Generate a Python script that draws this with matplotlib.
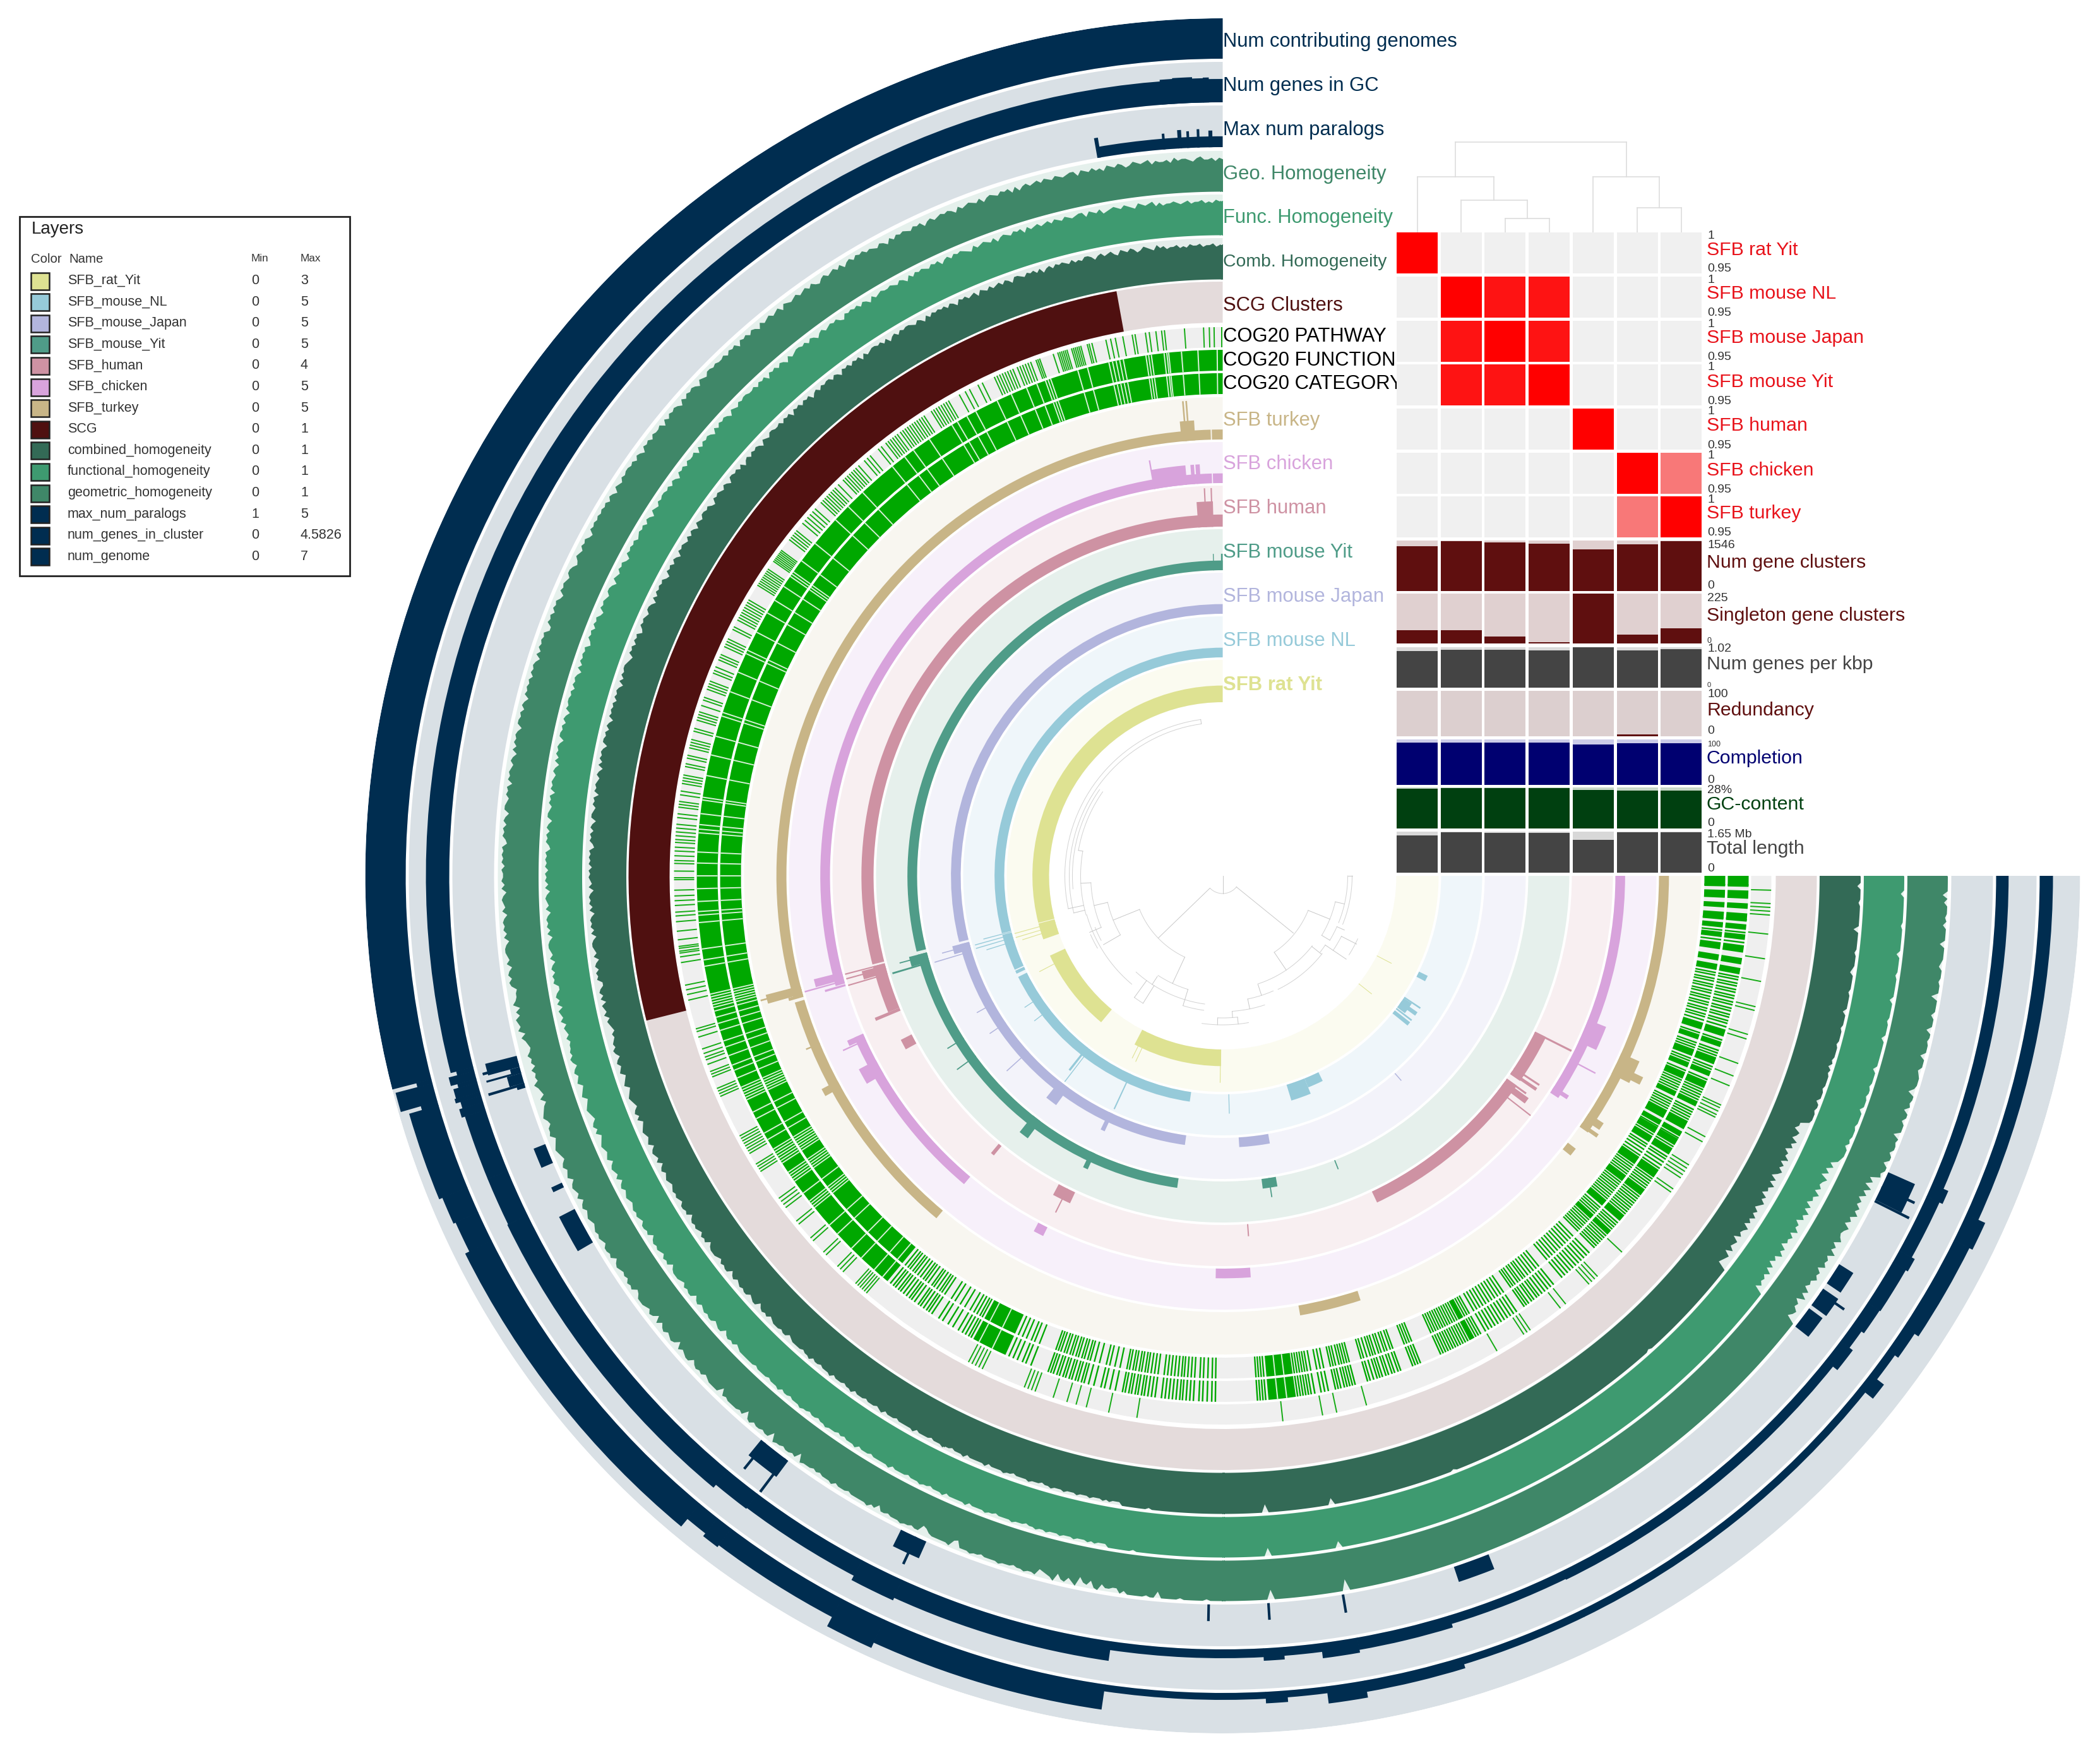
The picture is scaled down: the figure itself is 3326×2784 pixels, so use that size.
import numpy as np
import matplotlib
matplotlib.use("Agg")
import matplotlib.pyplot as plt
from matplotlib.colors import LinearSegmentedColormap
from matplotlib.patches import Rectangle

plt.rcParams['font.family'] = ['Liberation Sans', 'DejaVu Sans']

W, H = 3326, 2784
CX, CY, RMAX = 1936.5, 1387, 1358

# ring limits, radius in pixels of the figure
ring_limits = {
    'num_genome': (1294, 1358), 'num_genes': (1225, 1289), 'paralogs': (1154, 1220),
    'geo': (1084, 1148), 'func': (1015, 1079), 'comb': (945, 1010), 'scg': (876, 941),
    'pathway': (837, 869), 'function': (800, 833), 'category': (763, 796),
    'turkey': (691, 758), 'chicken': (622, 687), 'human': (553, 618), 'yit': (484, 549),
    'japan': (415, 480), 'nl': (346, 411), 'rat': (275, 342),
}

# (start deg, end deg, value), angle runs counter clockwise from north
rat_segs = [(0, 104.3, 1), (104.5, 109.5, 1), (114.8, 140.3, 1), (152.4, 179.5, 1), (105.4, 105.6, 2.6),
            (106.5, 106.7, 2.6), (107.6, 107.8, 2.2), (117.5, 117.7, 2), (153.5, 153.7, 1.8), (154.8, 155, 1.9),
            (179.2, 179.4, 2), (231.5, 231.7, 1), (242.5, 242.7, 1)]
nl_segs = [(0, 104.6, 1), (105, 114.3, 1), (114.6, 115.4, 1), (116.3, 171.7, 1), (104.7, 104.9, 3), (105.5, 105.7, 4),
           (106.3, 106.5, 4), (107.3, 107.5, 3), (123.5, 123.7, 2), (127.5, 127.7, 2), (141.5, 142, 3),
           (142.4, 142.6, 5), (154.9, 155.2, 4), (181.5, 181.7, 2), (197, 202, 1.7), (202, 206, 1), (233, 236, 1),
           (231, 232, 2), (232.4, 232.8, 2), (236, 236.4, 2), (234, 235, 2), (242.5, 244, 1)]
japan_segs = [(0, 104.1, 1), (104.6, 172, 1), (183.5, 190, 1), (104.6, 106.3, 1.8), (105.3, 105.5, 3), (106.6, 106.8, 4),
              (119, 119.2, 2), (124, 124.2, 2), (132, 132.2, 3), (141.5, 144, 2.2), (154.3, 155.2, 2), (221, 221.2, 1)]
yit_segs = [(0, 103.9, 1), (104.5, 171.7, 1), (187.3, 190, 1), (104.5, 106.3, 1.9), (105, 105.2, 3), (106.3, 106.6, 4),
            (122, 122.2, 2), (126, 126.2, 2.4), (141.6, 143.4, 2.2), (154.4, 155.3, 1.8), (188.6, 188.8, 2),
            (201.4, 201.6, 1), (1.6, 1.75, 1.7), (0, 0.3, 1.7)]
human_segs = [(0, 104.2, 1), (104.5, 112.2, 1), (117, 118.7, 1), (140.1, 140.7, 1), (152, 155, 1), (184, 184.2, 1),
              (205.3, 234.5, 1), (235.4, 243.5, 1), (1.5, 4, 2.1), (1.6, 1.8, 3.2), (2.6, 2.8, 3.2), (104.8, 106.1, 2),
              (104.5, 104.7, 3.9), (105.2, 105.4, 3.9), (106.2, 106.4, 3.6), (112.2, 112.7, 2.2), (153.5, 153.7, 2.2),
              (243.2, 243.5, 4), (234.2, 234.5, 2), (233, 234, 2.4), (232, 232.2, 3.6), (235.5, 236, 2.5), (236.4, 236.7, 2.5)]
chicken_segs = [(0, 1.4, 1), (1.55, 105.9, 1), (113.7, 140, 1), (152, 153.5, 1), (179, 184, 1), (236.5, 270, 1), (5.2, 10, 2),
                (9.9, 10.1, 3), (3.2, 3.8, 2), (4, 4.5, 2), (104.2, 105.3, 3), (105.4, 105.6, 4.7), (106, 106.3, 2.2),
                (113.7, 114.5, 1.8), (114.6, 114.8, 2.6), (118, 120.3, 2), (245, 248.5, 2), (242, 242.2, 3), (237, 237.6, 1.8)]
turkey_segs = [(0, 1.4, 1), (1.55, 106, 1), (106.5, 140.1, 1), (190, 198, 1), (231.2, 232.3, 1), (234.9, 270, 1), (3.6, 5.4, 2),
               (4.3, 4.5, 4), (4.7, 4.9, 4), (104.6, 105.7, 3.6), (105, 105.2, 4.7), (105.7, 106.1, 1.5), (112.5, 112.7, 1.5),
               (118, 119, 1.8), (243, 246, 2), (243.4, 244.4, 3), (236, 237, 1.8), (235, 235.5, 2)]
scg_segs = [(10.3, 104.1, 1)]

num_genome_segs = [(0, 104.4, 7), (104.4, 104.7, 2.7), (104.7, 106, 6.6), (106, 106.3, 3),
                   (106.3, 112.4, 5.3), (112.4, 114.3, 4.7), (114.3, 116.5, 4.3), (116.5, 140.2, 5.1), (140.2, 141.8, 3.4),
                   (141.8, 143, 4), (143, 152.2, 3.6), (152.2, 155.5, 5.4), (155.5, 171.7, 4.4), (171.7, 183, 1.2),
                   (183, 184.5, 2), (184.5, 187.3, 1.2), (187.3, 190, 3), (190, 197, 2), (197, 206, 1.3), (206, 231.2, 1.3),
                   (231.2, 232.4, 3), (232.4, 234.5, 1.5), (234.5, 236.5, 2.2), (236.5, 243.5, 3), (243.5, 245.5, 3.6),
                   (245.5, 270, 2.3)]
num_genes_vals = [(0, 104.3, 7), (1, 1.4, 8), (1.4, 2.2, 7.6), (2.2, 3.6, 8.5), (3.6, 4.5, 8), (104.3, 104.6, 4),
                  (104.6, 105.2, 9), (105.2, 105.5, 5), (105.5, 106.2, 8), (106.2, 106.5, 9), (106.5, 107, 6), (107, 107.6, 8),
                  (107.6, 112.4, 6), (112.4, 116, 6), (116, 140.2, 6.5), (140.2, 143, 4.5), (143, 152.2, 4), (152.2, 155.5, 6.5),
                  (155.5, 171.7, 5), (171.7, 183, 1), (183, 184.5, 2), (184.5, 187.3, 1), (187.3, 190, 3), (190, 197, 2),
                  (197, 206, 1), (206, 231.2, 1.2), (231.2, 233, 3), (233, 234.5, 1.6), (234.5, 236.5, 2.6), (236.5, 240, 3),
                  (240, 241, 4), (241, 245.5, 2.6), (245.5, 246.5, 4), (246.5, 270, 2)]
paralog_segs = [(0, 9.8, 1.3), (0.8, 1.1, 2), (1.8, 2.0, 2.2), (2.6, 2.8, 2), (3.2, 3.5, 2.2), (4.5, 4.7, 1.9), (9.6, 9.9, 2.4),
                (104.3, 105.2, 3.9), (105.2, 105.7, 1.2), (105.7, 106.5, 1.8), (106.5, 106.9, 1.0), (105.55, 105.7, 4.3),
                (106.5, 106.7, 4.5), (104.9, 105.1, 4.5), (111.6, 113.2, 1.5), (114.9, 115.3, 1.4), (117.2, 120.2, 2.1),
                (140.7, 143.4, 2.4), (141, 141.2, 4), (143, 143.2, 5), (153.8, 156, 2.2), (155, 155.2, 3.6), (178.8, 179, 2),
                (183.5, 183.7, 2), (189.4, 189.6, 2.2), (198.5, 201.4, 1.9), (231.8, 233.6, 2), (233.9, 235.5, 2.2),
                (235, 235.2, 3.5), (236, 237.8, 2), (243.6, 246, 3.5), (243.4, 243.6, 4.6), (244.6, 244.8, 4.4)]

# homogeneity every 0.3 deg, one digit per point, percent = 64 + 4 * digit
comb_homog = (
    "55465546556454655465745675467567457657646775657567"
    "67576475767567746757657567476576746757676757467567"
    "76757647576776574767576746757767576476757674767576"
    "67756746767576475767746756767457677567467575676746"
    "75767457676757467756767547675767456776757467675767"
    "67467576774676757467567674767567746757675476767576"
    "76574676757467675746776574675767446757476574654354"
    "56576467567456745676546757456765674676574675676567"
    "67657767467676576746777657677467567677567746767567"
    "77677567777677867767778677767786777677767867776777"
    "77867777677787767778677777867777877677778777677877"
    "78777877787778787779999999989999999999999999999999"
    "99999999999949999999999999999999599999999999999999"
    "99999999999999999999899999999999999999999999999999"
    "99999999999999999999999999999999999999989999999999"
    "99999999999999999999999345626345153462536352463514"
    "36251463526341536245133899989979998999989798999989"
    "99989999799999899999789999899999969999999899997999"
)
func_homog = (
    "55645465546545655464765674567567654756747765675675"
    "76576574767567647567657456767576476756767574675676"
    "67657467576767457676576467576776574675767476757667"
    "76756746767574676757476675767467576776756746757676"
    "57676745767567467756767457675767547676757467675767"
    "76746757677467675746756767476756774675767547676757"
    "67574676574676757467765746757674467574765746546455"
    "65764675674567456765467574567656746765746756765676"
    "76577674676765767467776576774675676775677467675677"
    "77776777767778677677787767767787776767778677767777"
    "78677776777877677786777778677778776777787776778778"
    "77787778777878777999999989999999999999999999999999"
    "99999999999949999999999999999999599999999999999999"
    "99999999999999999999999999999999999999999999999999"
    "99999999999999999999999999999999999999999999999999"
    "99999999999999999999999936453625142635143526341536"
    "25143625346152637899979899989999799989989999799999"
    "99979999899999799999989999979999999899999999799999"
)
geo_homog = (
    "45354465345546354453654564356456354645636654564564"
    "65465363656456536456546356565465365645656463564565"
    "76757647576576457576576567476576574675767476757667"
    "67756746767574676757476675767467576776756746757676"
    "76767457675675467756767457675767447676757467675767"
    "67467576774676757467567674767567746757675476767576"
    "67574676574676757467765746757634457364765736432353"
    "42534364325245675466745676546756746765746756765676"
    "76577674676565767457776576374675676375677467675677"
    "77376777767378677677387767767387776767778677767777"
    "78674776777877677346777778437778776777787776778778"
    "45679478579367489577669799999899599999899999989999"
    "99999999999939999999999999999999299999999999999999"
    "99999999999999999999999999999999999999999999999999"
    "99999999999999999999999999999999999999999999999999"
    "99999999999999999999999356341625132534153426241532"
    "35142635241526152879969979989599979969899589998799"
    "96999899699979999599989997899996999979899979699999"
)

# cog layers: solid runs, gaps inside the solid runs, and single lines, all degrees
cog_blocks = [(0, 140.4), (151.7, 155.6), (185.0, 188.0), (208.0, 208.6), (227.0, 227.6), (229.0, 229.8), (232.6, 233.4),
              (235.0, 236.0), (238.0, 238.8), (239.2, 240.0), (240.3, 240.9), (241.2, 242.2), (244.0, 244.6), (246.2, 247.0),
              (247.6, 248.2), (249.0, 249.8), (251.0, 251.6), (252.2, 253.0), (259.2, 259.9), (260.3, 261.0), (261.6, 262.4),
              (263.0, 263.6), (264.1, 264.7), (265.0, 265.9), (266.4, 267.0), (267.5, 268.4), (268.8, 270)]
cog_gaps = [0.6, 2.7, 4.5, 5.9, 6.1, 6.4, 7.8, 8.1, 8.4, 10.9, 11.3, 11.7, 12.1, 12.5, 14.9, 16.0, 19.1, 19.4, 19.7, 20.7, 21.9,
            23.7, 25.4, 28.0, 29.1, 30.3, 31.0, 33.9, 36.0, 37.2, 38.9, 43.2, 45.4, 47.4, 50.8, 53.2, 54.7, 55.0, 55.3, 56.6,
            58.4, 60.0, 62.4, 64.6, 65.0, 67.2, 69.5, 71.9, 72.3, 74.6, 76.7, 79.0, 81.4, 81.7, 83.2, 84.4, 84.9, 85.3, 87.4,
            88.6, 90.0, 91.4, 92.8, 93.9, 94.3, 95.1, 98.0, 99.2, 99.9, 103.0, 103.3, 103.6, 103.9, 104.2, 104.5, 104.9, 105.6,
            106.3, 107.1, 108.3, 109.0, 110.0, 111.1, 111.7, 112.6, 113.7, 114.0, 114.3, 114.6, 114.9, 115.2, 116.7, 117.5,
            119.3, 120.1, 121.3, 121.6, 121.9, 122.2, 122.5, 122.8, 123.1, 124.3, 124.6, 124.9, 125.2, 125.5, 127.1, 128.2,
            128.5, 128.8, 129.1, 131.6, 132.9, 135.1, 136.6, 138.5, 139.7, 152.4, 154.0, 186.0, 187.0]
cog_lines = [140.8, 141.2, 141.5, 141.9, 142.2, 142.6, 143.0, 143.4, 143.7, 144.1, 144.6, 144.9, 145.3, 145.7, 146.0, 146.4, 147.3,
             147.8, 148.5, 149.1, 149.8, 150.3, 150.7, 151.1, 151.4, 156.0, 156.5, 157.0, 157.6, 158.0, 158.6, 160.6, 160.9, 161.2,
             161.6, 161.9, 162.3, 162.6, 163.0, 163.3, 163.7, 164.0, 164.4, 164.7, 165.2, 165.8, 166.6, 167.0, 167.6, 168.2, 169.0,
             169.3, 169.7, 170.0, 170.4, 170.7, 171.1, 171.4, 171.8, 172.2, 172.6, 173.3, 173.7, 174.1, 174.5, 174.9, 175.3, 175.6,
             176.0, 176.4, 176.8, 177.4, 177.8, 178.3, 178.8, 179.2, 183.8, 184.1, 184.4, 184.7, 188.2, 188.5, 188.8, 189.1, 189.4,
             189.7, 190.1, 190.8, 191.2, 191.6, 192.4, 192.7, 193.0, 193.4, 193.7, 194.0, 194.3, 194.6, 196.0, 196.3, 196.7, 197.1,
             197.4, 197.7, 198.1, 198.4, 198.8, 199.1, 199.5, 199.8, 201.2, 201.5, 201.8, 202.1, 204.5, 204.8, 205.1, 205.4, 205.7,
             206.0, 206.3, 206.6, 206.9, 207.2, 207.5, 207.8, 208.8, 209.1, 209.4, 210.0, 210.4, 210.8, 211.2, 211.6, 212.0, 212.4,
             212.8, 213.2, 213.6, 214.0, 215.0, 215.3, 215.6, 216.0, 216.3, 216.7, 217.0, 217.4, 217.8, 218.2, 218.6, 219.0, 220.2,
             220.6, 221.0, 221.4, 221.8, 222.2, 222.6, 223.0, 223.4, 223.8, 224.2, 225.0, 225.3, 225.6, 225.9, 226.2, 226.5, 226.8,
             227.8, 228.1, 228.4, 228.7, 230.0, 230.3, 230.6, 230.9, 231.2, 231.5, 231.8, 232.1, 232.4, 233.6, 233.9, 234.2, 234.5,
             234.8, 236.2, 236.6, 237.0, 237.4, 237.7, 239.0, 240.1, 242.4, 242.7, 243.0, 243.3, 243.6, 244.8, 245.1, 245.4, 245.7,
             246.0, 247.2, 248.4, 248.7, 250.0, 250.3, 250.6, 251.8, 253.3, 253.7, 254.0, 254.4, 254.7, 255.1, 255.4, 255.8, 256.1,
             256.5, 256.8, 257.2, 257.5, 257.9, 258.2, 258.6, 258.9, 262.7, 263.8, 265.2, 269.0]
pathway_lines = [0.1, 0.9, 1.4, 2.0, 4.0, 6.1, 6.4, 7.0, 7.7, 8.1, 9.2, 9.5, 10.5, 11.3, 11.8, 12.3, 13.8, 14.1, 14.3, 15.0, 15.2,
                 15.4, 15.6, 15.8, 16.0, 16.5, 16.7, 16.9, 17.1, 17.3, 17.5, 18.0, 19.5, 19.7, 19.9, 20.5, 20.8, 21.1, 21.4, 21.7,
                 22.0, 22.5, 22.8, 23.1, 23.4, 23.7, 24.0, 24.3, 24.6, 26.0, 26.5, 27.5, 28.0, 28.7, 30.0, 30.3, 30.6, 30.9, 31.2,
                 31.5, 31.8, 32.1, 33.0, 33.3, 33.6, 33.9, 34.2, 34.5, 34.8, 35.1, 35.4, 35.7, 36.0, 36.4, 36.7, 37.0, 37.3, 37.6,
                 37.9, 38.5, 38.9, 40.0, 40.4, 40.8, 41.6, 42.0, 42.3, 42.6, 42.9, 43.2, 43.5, 43.8, 44.5, 45.0, 45.3, 45.6, 45.9,
                 46.2, 46.5, 46.8, 47.1, 48.0, 48.4, 48.8, 49.2, 49.6, 50.0, 51.0, 51.3, 51.6, 51.9, 52.2, 53.6, 53.8, 54.0, 54.2,
                 54.4, 54.6, 54.8, 55.0, 56.0, 56.25, 56.5, 56.75, 57.0, 57.25, 57.5, 57.75, 58.0, 59.8, 60.1, 60.4, 60.7, 61.0, 61.3,
                 61.6, 61.9, 62.2, 63.0, 63.3, 64.4, 64.7, 65.0, 65.3, 66.2, 66.5, 66.8, 67.6, 68.0, 68.3, 69.2, 69.5, 69.8, 70.1,
                 71.0, 71.3, 71.9, 72.6, 72.9, 73.2, 73.5, 74.4, 74.7, 75.6, 75.9, 76.2, 76.5, 77.3, 77.6, 78.2, 78.5, 79.4, 79.7,
                 80.0, 80.3, 81.1, 81.5, 82.2, 82.5, 82.8, 83.5, 83.9, 84.6, 85.0, 85.4, 85.8, 86.2, 86.5, 87.0, 87.4, 87.9, 88.4,
                 88.7, 89.5, 90.2, 90.4, 91.5, 92.1, 92.6, 93.1, 93.8, 94.2, 94.8, 95.8, 96.7, 97.4, 97.6, 97.9, 98.1, 98.5, 99.1,
                 101.5, 102.0, 102.5, 103.1, 106.2, 106.5, 107.1, 108.4, 108.9, 109.3, 109.6, 110.1, 110.9, 111.2, 111.5, 112.8,
                 113.1, 113.4, 113.7, 118.3, 118.6, 118.9, 119.2, 119.5, 119.8, 120.1, 120.4, 121.7, 122.0, 122.3, 122.6, 126.0,
                 126.4, 126.8, 127.2, 129.0, 129.4, 131.3, 131.7, 133.3, 133.7, 135.4, 135.8, 136.2, 138.0, 138.3, 138.6, 138.9,
                 139.2, 139.5, 152.4, 152.8, 153.2, 153.6, 154.0, 158.8, 159.2, 159.6, 160.0, 162.0, 163.5, 164.5, 165.6, 168.0,
                 171.0, 186.3, 190.5, 192.0, 195.2, 210.0, 213.3, 213.7, 214.1, 218.0, 218.7, 221.9, 222.3, 222.7, 223.1, 226.7,
                 234.8, 235.2, 236.6, 237.0, 237.4, 237.8, 238.2, 241.0, 241.6, 243.9, 244.2, 244.6, 245.0, 245.3, 247.5, 248.6,
                 250.0, 252.7, 253.2, 255.8, 256.2, 258.9, 261.3, 263.9, 265.9, 266.3, 266.7, 267.1, 268.5]

# heatmap side of the figure
genome_names = ['SFB rat Yit', 'SFB mouse NL', 'SFB mouse Japan', 'SFB mouse Yit', 'SFB human', 'SFB chicken', 'SFB turkey']
ani_matrix = [[1, .95, .95, .95, .95, .95, .95],
              [.95, 1, .996, .996, .95, .95, .95],
              [.95, .996, 1, .996, .95, .95, .95],
              [.95, .996, .996, 1, .95, .95, .95],
              [.95, .95, .95, .95, 1, .95, .95],
              [.95, .95, .95, .95, .95, 1, .975],
              [.95, .95, .95, .95, .95, .975, 1]]
num_gene_clusters = [1367, 1519, 1483, 1457, 1278, 1430, 1528]
singleton_clusters = [61, 61, 30, 7, 225, 39, 68]
genes_per_kbp = [.925, .962, .954, .947, 1.02, .94, .976]
redundancy = [0, 0, 0, 0, 0, 4.5, 0]
completion = [93, 93, 93, 93, 89, 91, 91]
gc_content = [27.0, 27.4, 27.4, 27.4, 26.4, 25.8, 25.8]
total_length = [1.51, 1.63, 1.6, 1.6, 1.31, 1.62, 1.63]

# name, values, max, top, bottom, bar colour, bg colour, text colour
bar_rows = [
    ('Num gene clusters', num_gene_clusters, 1546, 856, 935.5, '#5f0f0f', '#e0d0d0', '#5f0f0f', 891),
    ('Singleton gene clusters', singleton_clusters, 225, 940, 1019, '#5f0f0f', '#e0d0d0', '#5f0f0f', 975),
    ('Num genes per kbp', genes_per_kbp, 1.02, 1025, 1089, '#444444', '#dadada', '#444444', 1052),
    ('Redundancy', redundancy, 100, 1094, 1166, '#5f0f0f', '#dccfcf', '#5f0f0f', 1125),
    ('Completion', completion, 100, 1171, 1243, '#000070', '#cbcbe8', '#000070', 1201),
    ('GC-content', gc_content, 28, 1247, 1312, '#004010', '#c8d8c8', '#004010', 1274),
    ('Total length', total_length, 1.65, 1317, 1382, '#444444', '#d8d8d8', '#444444', 1344),
]
bar_scale_text = [('1546', 863, 14), ('0', 928, 14), ('225', 948, 14), ('0', 1015, 9), ('1.02', 1028, 14), ('0', 1085, 8),
                  ('100', 1099, 14), ('0', 1158, 14), ('100', 1179, 9), ('0', 1235, 14), ('28%', 1251, 14), ('0', 1304, 14),
                  ('1.65 Mb', 1322, 14), ('0', 1375, 14)]
ani_rows_top = [368, 438, 508, 577, 647, 717, 786]
ani_label_y = [396, 465, 535, 605, 674, 745, 813]

# column dendrogram: left col, right col, height, in column index and pixels
col_merges = [(2.0, 3.0, 22), (1.0, 2.5, 51), (0.0, 1.75, 88), (5.0, 6.0, 39), (4.0, 5.5, 88), (0.875, 4.75, 143)]
col_child_h = [(0.875, 88, 143), (4.75, 88, 143), (1.75, 51, 88), (2.5, 22, 51), (5.5, 39, 88), (0, 0, 88), (1, 0, 51),
               (2, 0, 22), (3, 0, 22), (4, 0, 88), (5, 0, 39), (6, 0, 39)]

# central tree: arcs (radius, deg from, deg to), spokes (deg, radius from, radius to)
tree_arcs = [(28, 135, 232), (142, 112, 155), (187, 103, 120), (209, 93, 113), (225, 80, 106), (224, 106, 140), (232, 55, 80),
             (238, 55, 95), (243, 8, 104), (250, 8, 102), (146, 214, 248), (183, 239, 257), (198, 248, 270), (205, 248, 270),
             (198, 239, 246), (180, 198, 232), (200, 206, 232), (199, 191.5, 203.7), (215, 184, 198), (225, 178, 186),
             (236, 172, 190), (188, 147, 163), (205, 138, 172), (215, 163, 172), (196, 232, 236), (211, 236, 243),
             (218, 112, 118), (229, 114, 120), (236, 238, 245), (238, 144, 148)]
tree_spokes = [(180, 0, 28), (134, 28, 142), (231, 28, 144), (112, 142, 187), (155, 142, 188), (103, 187, 209), (93, 209, 225),
               (80, 225, 232), (248, 146, 183), (214, 146, 180), (257, 183, 198), (239, 183, 198), (270, 198, 205),
               (231.6, 180, 199), (198, 181, 199), (191.5, 199, 215), (184, 215, 225), (147, 190, 205), (163, 188, 215),
               (178, 225, 236), (186, 225, 236), (120, 187, 218), (113, 209, 229), (246, 198, 211), (236, 196, 236),
               (243, 211, 238), (104, 225, 243), (102, 225, 250), (8, 243, 250), (144, 205, 238), (148, 205, 238)]

# legend table
legend_names = ['SFB_rat_Yit', 'SFB_mouse_NL', 'SFB_mouse_Japan', 'SFB_mouse_Yit', 'SFB_human', 'SFB_chicken', 'SFB_turkey', 'SCG',
                'combined_homogeneity', 'functional_homogeneity', 'geometric_homogeneity', 'max_num_paralogs',
                'num_genes_in_cluster', 'num_genome']
legend_min = ['0', '0', '0', '0', '0', '0', '0', '0', '0', '0', '0', '1', '0', '0']
legend_max = ['3', '5', '5', '5', '4', '5', '5', '1', '1', '1', '1', '5', '4.5826', '7']
legend_colors = ['#dee292', '#96cad9', '#b2b5dd', '#4f9c88', '#ce92a3', '#d8a3dc', '#c8b587', '#4f1010', '#336a56', '#3e9a70',
                 '#3f8768', '#002d50', '#002d50', '#002d50']

fig = plt.figure(figsize=(W / 100, H / 100), dpi=100, facecolor='white')
pol = fig.add_axes([(CX - RMAX) / W, (H - CY - RMAX) / H, 2 * RMAX / W, 2 * RMAX / H], projection='polar')
pol.set_theta_zero_location('N')
pol.set_theta_direction(1)
pol.set_axis_off()


def ring_bg(name, color):
    r0, r1 = ring_limits[name]
    pol.bar(np.radians(135), r1 - r0, width=np.radians(270), bottom=r0, color=color, linewidth=0)


def draw_segs(name, segs, vmax, color, scale=1.0, pad=0.0):
    r0, r1 = ring_limits[name]
    for s, e, v in sorted(segs, key=lambda q: -q[2]):
        h = min(1, v / vmax * scale) * (r1 - r0)
        e2 = min(e + pad, 270)
        pol.bar(np.radians((s + e2) / 2), h, width=np.radians(e2 - s), bottom=r0, color=color, linewidth=0)


def draw_homog(name, digits, color, light):
    r0, r1 = ring_limits[name]
    ring_bg(name, light)
    vals = np.array([64 + 4 * int(d) for d in digits]) / 100
    th = np.radians(np.linspace(0, 270, len(vals)))
    pol.fill_between(th, r0, r0 + vals * (r1 - r0), color=color, linewidth=0)


def draw_lines(name, lines, color, width=0.2):
    r0, r1 = ring_limits[name]
    pol.bar(np.radians(lines), r1 - r0, width=np.radians(width), bottom=r0, color=color, linewidth=0)


ring_bg('num_genome', '#d9e0e5')
draw_segs('num_genome', num_genome_segs, 7, '#002d50', pad=0.03)
ring_bg('num_genes', '#d9e0e5')
r0, r1 = ring_limits['num_genes']
for s, e, n in sorted(num_genes_vals, key=lambda q: -q[2]):
    e2 = min(e + 0.03, 270)
    pol.bar(np.radians((s + e2) / 2), np.sqrt(n) / 4.5826 * (r1 - r0), width=np.radians(e2 - s), bottom=r0, color='#002d50', linewidth=0)
ring_bg('paralogs', '#d9e0e5')
draw_segs('paralogs', paralog_segs, 5, '#002d50')
draw_homog('geo', geo_homog, '#3f8768', '#e5f0ec')
draw_homog('func', func_homog, '#3e9a70', '#e5f2ec')
draw_homog('comb', comb_homog, '#336a56', '#e4edea')
ring_bg('scg', '#e4dbdb')
draw_segs('scg', scg_segs, 1, '#4f1010')

for nm in ['pathway', 'function', 'category']:
    ring_bg(nm, '#efefef')
for nm in ['function', 'category']:
    r0, r1 = ring_limits[nm]
    for s, e in cog_blocks:
        pol.bar(np.radians((s + e) / 2), r1 - r0, width=np.radians(e - s), bottom=r0, color='#00a800', linewidth=0)
    draw_lines(nm, cog_gaps, '#d6f0d6', 0.14)
    draw_lines(nm, cog_lines, '#00a800', 0.17)
draw_lines('pathway', pathway_lines, '#14ab14', 0.13)

genome_rings = [('turkey', turkey_segs, 5, '#c8b587', '#f8f6f0'), ('chicken', chicken_segs, 5, '#d8a3dc', '#f7f0fa'),
                ('human', human_segs, 4, '#ce92a3', '#f8eff1'), ('yit', yit_segs, 5, '#4f9c88', '#e6f0ec'),
                ('japan', japan_segs, 5, '#b2b5dd', '#f3f3fa'), ('nl', nl_segs, 5, '#96cad9', '#eff6fa'),
                ('rat', rat_segs, 3, '#dee292', '#fbfbf0')]
for nm, segs, vmax, col, bg in genome_rings:
    ring_bg(nm, bg)
    draw_segs(nm, segs, vmax, col, 1.18)

for rad, a, b in tree_arcs:
    th = np.radians(np.linspace(a, b, 40))
    pol.plot(th, np.full(40, rad), color='#d2d2d2', lw=0.7)
for a, r_a, r_b in tree_spokes:
    pol.plot(np.radians([a, a]), [r_a, r_b], color='#c8c8c8', lw=0.7)
pol.set_ylim(0, RMAX)
pol.set_thetalim(0, 2 * np.pi)

# everything else in figure pixels
ax = fig.add_axes([0, 0, 1, 1], facecolor='none')
ax.set_xlim(0, W)
ax.set_ylim(H, 0)
ax.axis('off')

layer_labels = [('Num contributing genomes', 66, '#002d50', 22.3), ('Num genes in GC', 136, '#002d50', 22.3), ('Max num paralogs', 206, '#002d50', 22.3),
                ('Geo. Homogeneity', 276, '#3f8768', 22.3), ('Func. Homogeneity', 345, '#3e9a70', 22.3), ('Comb. Homogeneity', 415, '#336a56', 20.4),
                ('SCG Clusters', 484, '#4f1010', 22.3), ('COG20 PATHWAY', 533, 'black', 22.3), ('COG20 FUNCTION', 571, 'black', 22.3),
                ('COG20 CATEGORY', 608, 'black', 22.3), ('SFB turkey', 666, '#c8b587', 22.3), ('SFB chicken', 735, '#d8a3dc', 22.3),
                ('SFB human', 805, '#ce92a3', 22.3), ('SFB mouse Yit', 875, '#4f9c88', 22.3), ('SFB mouse Japan', 945, '#b2b5dd', 22.3),
                ('SFB mouse NL', 1015, '#96cad9', 22.3), ('SFB rat Yit', 1085, '#dee292', 22.3)]
for txt, y, col, fs in layer_labels:
    ax.text(1937, y, txt, color=col, fontsize=fs, va='center', ha='left',
            fontweight='bold' if txt == 'SFB rat Yit' else 'normal', zorder=2)

col_left = [2212 + 69.7 * i for i in range(7)]
col_w = 65
ani_cmap = LinearSegmentedColormap.from_list('ani', ['#f0f0f0', '#ff0000'])
for i, row in enumerate(ani_matrix):
    top = ani_rows_top[i]
    cols = [ani_cmap((v - .95) / .05) for v in row]
    ax.bar(col_left, 65, width=col_w, bottom=top, align='edge', color=cols, linewidth=0, zorder=3)
    ax.text(2703, ani_label_y[i], genome_names[i], color='#e8131b', fontsize=21.8, va='center', zorder=3)
    ax.text(2705, top + 5, '1', color='#333333', fontsize=14, va='center', zorder=3)
    ax.text(2704, top + 58, '0.95', color='#333333', fontsize=14, va='center', zorder=3)

for name, vals, vmax, top, bot, col, bg, tcol, ty in bar_rows:
    ax.bar(col_left, bot - top, width=col_w, bottom=top, align='edge', color=bg, linewidth=0, zorder=3)
    hts = [v / vmax * (bot - top) for v in vals]
    ax.bar(col_left, [-h for h in hts], width=col_w, bottom=bot, align='edge', color=col, linewidth=0, zorder=3)
    ax.text(2703, ty, name, color=tcol, fontsize=21.8, va='center', zorder=3)
for txt, y, fs in bar_scale_text:
    ax.text(2704, y, txt, color='#333333', fontsize=fs, va='center', zorder=3)

col_center = [c + col_w / 2 for c in col_left]
for a, b, hgt in col_merges:
    xa = np.interp(a, range(7), col_center)
    xb = np.interp(b, range(7), col_center)
    ax.plot([xa, xb], [368 - hgt, 368 - hgt], color='#dddddd', lw=1.2, zorder=1)
for c, h0, h1 in col_child_h:
    xc = np.interp(c, range(7), col_center)
    ax.plot([xc, xc], [368 - h0, 368 - h1], color='#dddddd', lw=1.2, zorder=1)

# legend box
ax.add_patch(Rectangle((31, 342.5), 523, 569.5, facecolor='white', edgecolor='#222222', lw=2, zorder=4))
ax.text(50, 363, 'Layers', fontsize=20, color='#222222', va='center', zorder=5)
ax.text(49, 410, 'Color', fontsize=14.7, color='#333333', va='center', zorder=5)
ax.text(109, 410, 'Name', fontsize=14.7, color='#333333', va='center', zorder=5)
ax.text(398, 410, 'Min', fontsize=12.3, color='#333333', va='center', zorder=5)
ax.text(476, 410, 'Max', fontsize=12.3, color='#333333', va='center', zorder=5)
for i, nm in enumerate(legend_names):
    y = 444.5 + 33.6 * i
    ax.add_patch(Rectangle((49, y - 13), 29, 27, facecolor=legend_colors[i], edgecolor='#222222', lw=1.8, zorder=5))
    ax.text(107, y, nm, fontsize=15.5, color='#333333', va='center', zorder=5)
    ax.text(398, y, legend_min[i], fontsize=15.5, color='#333333', va='center', zorder=5)
    ax.text(476, y, legend_max[i], fontsize=15.5, color='#333333', va='center', zorder=5)

fig.savefig('out.png', dpi=100, facecolor='white')
